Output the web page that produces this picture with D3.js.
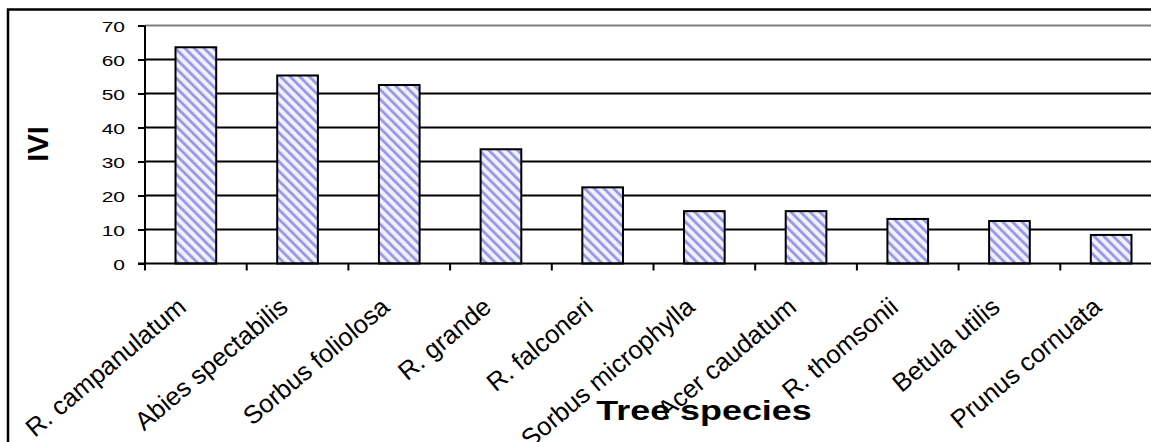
<!DOCTYPE html>
<html>
<head>
<meta charset="utf-8">
<script src="https://cdn.jsdelivr.net/npm/d3@7/dist/d3.min.js"></script>
<style>
  html, body { margin: 0; padding: 0; background: #fff; overflow: hidden; }
  svg { display: block; }
  text { font-family: "Liberation Sans", Arial, sans-serif; fill: #000; }
</style>
</head>
<body>
<svg id="chart" width="1151" height="442"></svg>
<script>
// Importance Value Index (IVI) of tree species
const categories = [
  "R. campanulatum", "Abies spectabilis", "Sorbus foliolosa", "R. grande",
  "R. falconeri", "Sorbus microphylla", "Acer caudatum", "R. thomsonii",
  "Betula utilis", "Prunus cornuata"
];
const iviValues = [63.6, 55.3, 52.5, 33.6, 22.4, 15.4, 15.4, 13.1, 12.5, 8.4];
const yTicks = [0, 10, 20, 30, 40, 50, 60, 70];
const yTitle = "IVI";
const xTitle = "Tree species";

const W = 1151, H = 442;
const plot = { left: 145, right: 1162, top: 25.5, bottom: 263.5 };
const textStretch = 1.4;

const svg = d3.select("#chart");

// diagonal hatch fill for the bars
const defs = svg.append("defs");
const pat = defs.append("pattern")
  .attr("id", "hatch")
  .attr("patternUnits", "userSpaceOnUse")
  .attr("width", 6.8).attr("height", 6.8)
  .attr("patternTransform", "rotate(-45)");
pat.append("rect").attr("width", 6.8).attr("height", 6.8).attr("fill", "#f0f0ff");
pat.append("rect").attr("x", 0).attr("width", 2.8).attr("height", 6.8).attr("fill", "#9898e4");

const x = d3.scaleBand()
  .domain(categories)
  .range([plot.left, plot.right])
  .paddingInner(0.6)
  .paddingOuter(0.3);

const y = d3.scaleLinear()
  .domain([0, 70])
  .range([plot.bottom, plot.top]);

// horizontal gridlines
svg.append("g")
  .selectAll("line")
  .data(yTicks.filter(d => d > 0))
  .join("line")
  .attr("x1", plot.left).attr("x2", W + 5)
  .attr("y1", d => y(d)).attr("y2", d => y(d))
  .attr("stroke", d => d === 70 ? "#808080" : "#000")
  .attr("stroke-width", 2);

// bars
svg.append("g")
  .selectAll("rect")
  .data(categories)
  .join("rect")
  .attr("x", d => x(d))
  .attr("y", (d, i) => y(iviValues[i]))
  .attr("width", x.bandwidth())
  .attr("height", (d, i) => y(0) - y(iviValues[i]))
  .attr("fill", "url(#hatch)")
  .attr("stroke", "#000")
  .attr("stroke-width", 2);

// y axis
const yAxis = svg.append("g")
  .attr("transform", `translate(${plot.left},0)`)
  .call(d3.axisLeft(y).tickValues(yTicks).tickSize(7).tickPadding(0).tickFormat(d3.format("d")));
yAxis.select(".domain").attr("stroke", "#000").attr("stroke-width", 2)
  .attr("d", `M0,${plot.top}V${plot.bottom}`);
yAxis.selectAll(".tick line").attr("stroke", "#000").attr("stroke-width", 2);
yAxis.selectAll(".tick text")
  .attr("x", null).attr("dy", null)
  .attr("font-size", 15)
  .attr("text-anchor", "end")
  .attr("transform", `translate(-20,5.5) scale(${textStretch},1)`);

// x axis: ticks at category boundaries
const step = x.step();
const boundaries = d3.range(categories.length + 1).map(i => plot.left + i * step);
const xAxisG = svg.append("g");
xAxisG.append("line")
  .attr("x1", plot.left - 7).attr("x2", W + 5)
  .attr("y1", y(0)).attr("y2", y(0))
  .attr("stroke", "#000").attr("stroke-width", 2);
xAxisG.selectAll("line.tick")
  .data(boundaries)
  .join("line")
  .attr("class", "tick")
  .attr("x1", d => d).attr("x2", d => d)
  .attr("y1", y(0)).attr("y2", y(0) + 7)
  .attr("stroke", "#000").attr("stroke-width", 2);

// rotated category labels
svg.append("g")
  .selectAll("text")
  .data(categories)
  .join("text")
  .attr("text-anchor", "end")
  .attr("font-size", 25.5)
  .attr("transform", d => `translate(${x(d) + x.bandwidth() / 2 - 8},${y(0) + 46}) rotate(-40)`)
  .text(d => d);

// axis titles
svg.append("text")
  .attr("text-anchor", "middle")
  .attr("font-size", 27)
  .attr("font-weight", "bold")
  .attr("transform", `translate(704,420) scale(1.33,1)`)
  .text(xTitle);

svg.append("text")
  .attr("text-anchor", "middle")
  .attr("font-size", 29)
  .attr("font-weight", "bold")
  .attr("transform", `translate(48.3,144) rotate(-90)`)
  .text(yTitle);

// outer frame (left and top edges)
svg.append("path")
  .attr("d", `M8,${H + 5}V9.5H${W + 5}`)
  .attr("fill", "none")
  .attr("stroke", "#000")
  .attr("stroke-width", 2.5);
</script>
</body>
</html>
